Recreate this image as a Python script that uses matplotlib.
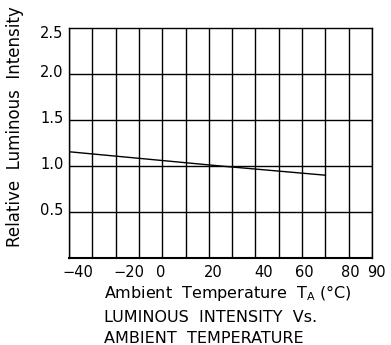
import matplotlib
matplotlib.use("Agg")
import matplotlib.pyplot as plt
import matplotlib.transforms as mtransforms

plt.rcParams['font.family'] = ['DejaVu Sans']
plt.rcParams['mathtext.default'] = 'regular'

# data
temps = [-40, 25, 70]
rel_intensity = [1.155, 1.0, 0.90]
x_grid = list(range(-40, 91, 10))
y_grid = [0.5, 1.0, 1.5, 2.0]
x_ticks = [-40, -20, 0, 20, 40, 60, 80, 90]
x_tick_labels = ['\u221240', '\u221220', '0', '20', '40', '60', '80', '90']
y_ticks = [0.5, 1.0, 1.5, 2.0, 2.5]
y_tick_labels = ['0.5', '1.0', '1.5', '2.0', '2.5']

# label placement nudges (pixels) to mimic the original drawing
x_label_dx = [9, 13.5, -2, 4, 8, 2.5, 2, 4]
y_label_dy = [3, 3, 3, 3, -4.5]

W, H = 391, 345
fig = plt.figure(figsize=(W/100, H/100), dpi=100)
ax = fig.add_axes([69/W, (H-258)/H, 303/W, 230/H])
ax.set_xlim(-40, 90)
ax.set_ylim(0, 2.5)

for xv in x_grid:
    ax.axvline(xv, color='black', lw=1.0, zorder=1)
for yv in y_grid:
    ax.axhline(yv, color='black', lw=1.0, zorder=1)

ax.plot(temps, rel_intensity, color='black', lw=1.0, zorder=3)

for s in ax.spines.values():
    s.set_linewidth(1.0)
ax.spines['bottom'].set_linewidth(1.5)

ax.set_xticks(x_ticks)
ax.set_xticklabels(x_tick_labels, fontsize=10.5)
ax.set_yticks(y_ticks)
ax.set_yticklabels(y_tick_labels, fontsize=10.5)
ax.tick_params(length=0)
ax.tick_params(axis='x', pad=5)
ax.tick_params(axis='y', pad=4)
for lab, dx in zip(ax.get_xticklabels(), x_label_dx):
    lab.set_transform(lab.get_transform() +
                      mtransforms.ScaledTranslation(dx/100, 0, fig.dpi_scale_trans))
for lab, dy in zip(ax.get_yticklabels(), y_label_dy):
    lab.set_transform(lab.get_transform() +
                      mtransforms.ScaledTranslation(0, dy/100, fig.dpi_scale_trans))

fig.text(15/W, 1 - 126.5/H, 'Relative  Luminous  Intensity', fontsize=12,
         rotation=90, ha='center', va='center')

fig.text(104/W, 1 - 298/H, 'Ambient  Temperature  T$_A$ (\u00b0C)', fontsize=11.5,
         ha='left', va='baseline')
fig.text(104/W, 1 - 322/H, 'LUMINOUS  INTENSITY  Vs.', fontsize=11.5,
         ha='left', va='baseline')
fig.text(104/W, 1 - 343/H, 'AMBIENT  TEMPERATURE', fontsize=11.5,
         ha='left', va='baseline')

fig.savefig('out.png', dpi=100)
